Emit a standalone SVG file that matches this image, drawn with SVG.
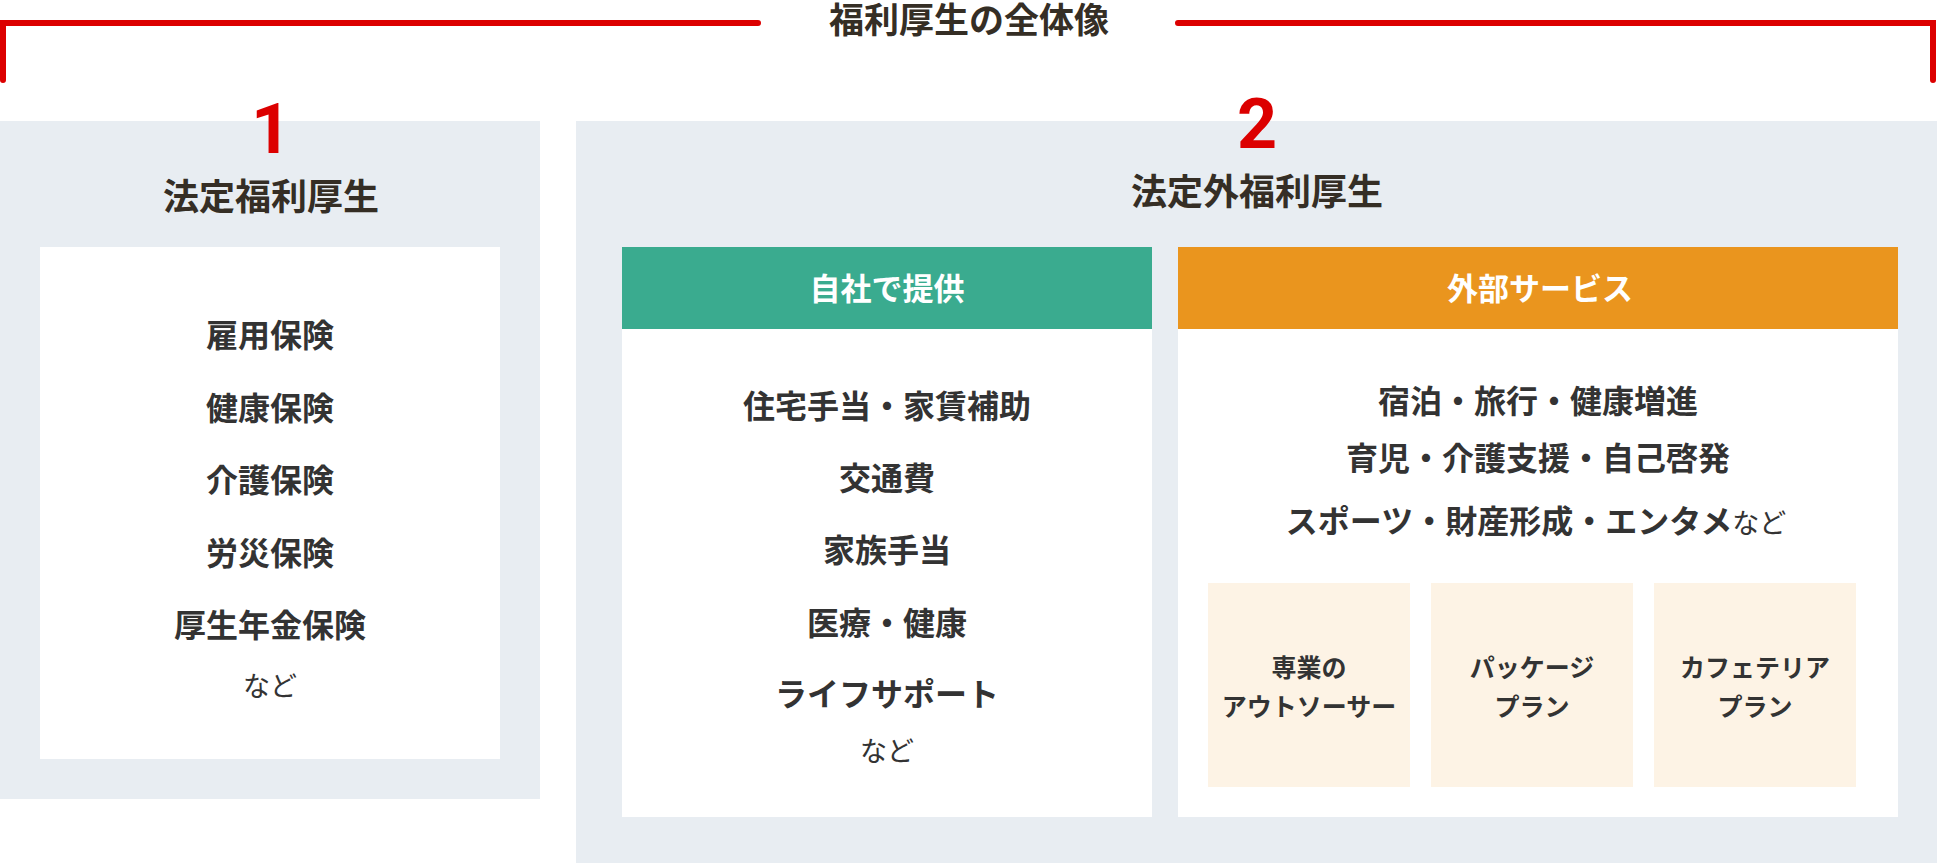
<svg xmlns="http://www.w3.org/2000/svg" width="1937" height="863" viewBox="0 0 1937 863">
  <style>
    .jp { font-family: "Noto Sans CJK JP", "Noto Sans", sans-serif; text-anchor: middle; }
    .head { font-size: 35px; font-weight: 700; fill: #352e25; }
    .item { font-size: 32px; font-weight: 700; fill: #333333; }
    .nado { font-size: 27px; font-weight: 400; fill: #333333; }
    .bar { font-size: 31px; font-weight: 700; fill: #ffffff; }
    .sub { font-size: 25px; font-weight: 700; fill: #333333; }
    .num { font-family: Roboto, "Liberation Sans", sans-serif; font-weight: 700; font-size: 70px; fill: #dc0000; text-anchor: middle; }
    .panel { fill: #e8edf2; }
    .white { fill: #ffffff; }
    .cream { fill: #fdf3e5; }
    .bracket { fill: none; stroke: #dc0000; stroke-width: 6; stroke-linecap: round; stroke-linejoin: miter; }
  </style>

  <rect width="1937" height="863" fill="#ffffff"/>

  <g id="title">
    <g id="title-bracket">
      <path class="bracket" d="M3,80 V23 H758"/>
      <path class="bracket" d="M1178,23 H1933 V80"/>
    </g>
    <text class="jp head" x="969" y="33" style="font-size:35px">福利厚生の全体像</text>
  </g>

  <g id="statutory">
    <rect class="panel" x="0" y="121" width="540" height="678"/>
    <text class="num" x="271" y="153">1</text>
    <text class="jp head" x="271" y="210" style="font-size:36px">法定福利厚生</text>
    <rect class="white" x="40" y="247" width="460" height="512"/>
    <text class="jp item" x="270" y="347">雇用保険</text>
    <text class="jp item" x="270" y="420">健康保険</text>
    <text class="jp item" x="270" y="492">介護保険</text>
    <text class="jp item" x="270" y="565">労災保険</text>
    <text class="jp item" x="270" y="637">厚生年金保険</text>
    <text class="jp nado" x="270" y="696">など</text>
  </g>

  <g id="non-statutory">
    <rect class="panel" x="576" y="121" width="1361" height="742"/>
    <text class="num" x="1257" y="148">2</text>
    <text class="jp head" x="1257" y="205" style="font-size:36px">法定外福利厚生</text>
  </g>

  <g id="in-house">
    <rect x="622" y="247" width="530" height="82" fill="#3aab8f"/>
    <text class="jp bar" x="887" y="300">自社で提供</text>
    <rect class="white" x="622" y="329" width="530" height="488"/>
    <text class="jp item" x="887" y="418">住宅手当・家賃補助</text>
    <text class="jp item" x="887" y="490">交通費</text>
    <text class="jp item" x="887" y="562">家族手当</text>
    <text class="jp item" x="887" y="635">医療・健康</text>
    <text class="jp item" x="887" y="706">ライフサポート</text>
    <text class="jp nado" x="887" y="761">など</text>
  </g>

  <g id="external">
    <rect x="1178" y="247" width="720" height="82" fill="#ea951e"/>
    <text class="jp bar" x="1540" y="300">外部サービス</text>
    <rect class="white" x="1178" y="329" width="720" height="488"/>
    <text class="jp item" x="1538" y="413">宿泊・旅行・健康増進</text>
    <text class="jp item" x="1538" y="470">育児・介護支援・自己啓発</text>
    <text class="jp item" x="1536" y="533">スポーツ・財産形成・エンタメ<tspan class="nado">など</tspan></text>
  </g>

  <g id="outsourcer">
    <rect class="cream" x="1208" y="583" width="202" height="204"/>
    <text class="jp sub" x="1309" y="677">専業の</text>
    <text class="jp sub" x="1309" y="716">アウトソーサー</text>
  </g>

  <g id="package-plan">
    <rect class="cream" x="1431" y="583" width="202" height="204"/>
    <text class="jp sub" x="1532" y="677">パッケージ</text>
    <text class="jp sub" x="1532" y="716">プラン</text>
  </g>

  <g id="cafeteria-plan">
    <rect class="cream" x="1654" y="583" width="202" height="204"/>
    <text class="jp sub" x="1755" y="677">カフェテリア</text>
    <text class="jp sub" x="1755" y="716">プラン</text>
  </g>
</svg>
